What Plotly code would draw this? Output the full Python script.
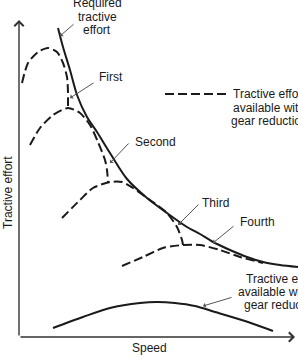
import plotly.graph_objects as go

# Coordinates: speed (S) to the right of the origin, effort (E) above the origin
req_s = [39, 44, 51, 58, 68, 78, 91, 108, 128, 148, 168, 181, 194, 211, 228, 244, 261, 279]
req_e = [309, 290, 267, 242, 220, 205, 184, 158, 139, 124, 110, 103, 95, 87, 80, 75, 72, 70]

first_s = [3, 9, 19, 29, 38, 44, 48, 49, 49, 49]
first_e = [254, 274, 285, 289, 285, 274, 260, 245, 237, 229]

second_s = [11, 21, 34, 49, 61, 71, 79, 86, 88, 89]
second_e = [192, 209, 222, 229, 224, 212, 195, 177, 167, 155]

third_s = [43, 61, 74, 91, 103, 114, 131, 148, 158, 163, 164]
third_e = [119, 137, 149, 155, 155, 149, 137, 124, 110, 97, 92]

fourth_s = [103, 124, 144, 164, 181, 201, 221, 244]
fourth_e = [71, 80, 89, 92, 92, 87, 80, 74]

nogear_s = [34, 64, 91, 121, 138, 156, 176, 196, 229, 254]
nogear_e = [9, 20, 29, 34, 35, 34, 31, 25, 15, 6]

legend_s = [146, 207]
legend_e = [243, 243]

INK = "#1a1a1a"
DASH = "9px,4px"
FONT = dict(family="Liberation Sans, Arial, sans-serif", size=12, color=INK)

fig = go.Figure()
fig.add_trace(go.Scatter(x=req_s, y=req_e, mode="lines",
                         line=dict(color=INK, width=2, shape="spline", smoothing=0.8)))
fig.add_trace(go.Scatter(x=nogear_s, y=nogear_e, mode="lines",
                         line=dict(color=INK, width=2, shape="spline", smoothing=0.8)))
for xs, ys in [(first_s, first_e), (second_s, second_e), (third_s, third_e), (fourth_s, fourth_e)]:
    fig.add_trace(go.Scatter(x=xs, y=ys, mode="lines",
                             line=dict(color=INK, width=2, dash=DASH, shape="spline", smoothing=0.7)))
fig.add_trace(go.Scatter(x=legend_s, y=legend_e, mode="lines",
                         line=dict(color=INK, width=2, dash=DASH)))

ann = []
# axes arrows
ann.append(dict(x=0, y=317, ax=0, ay=0, axref="x", ayref="y", xref="x", yref="y",
                text="", showarrow=True, arrowhead=4, arrowsize=1.3, arrowwidth=1.4, arrowcolor="#333"))
ann.append(dict(x=276, y=0, ax=0, ay=0, axref="x", ayref="y", xref="x", yref="y",
                text="", showarrow=True, arrowhead=4, arrowsize=1.3, arrowwidth=1.4, arrowcolor="#333"))

# pointers (head, tail)
pointers = [((41, 301), (56, 314)), ((51, 239), (76, 255)), ((91, 174), (111, 195)),
            ((159, 112), (181, 134)), ((194, 94), (216, 112)), ((184, 31), (214, 40))]
for (hx, hy), (tx, ty) in pointers:
    ann.append(dict(x=hx, y=hy, ax=tx, ay=ty, axref="x", ayref="y", xref="x", yref="y",
                    text="", showarrow=True, arrowhead=1, arrowsize=0.9, arrowwidth=1,
                    arrowcolor="#555", standoff=0))

def txt(x, y, t, anchor="center", angle=0):
    ann.append(dict(x=x, y=y, xref="x", yref="y", text=t, showarrow=False,
                    xanchor=anchor, yanchor="middle", font=FONT, textangle=angle))

txt(78, 334, "Required")
txt(78, 320, "tractive")
txt(78, 307, "effort")
txt(78, 260, "First", "left")
txt(114, 195, "Second", "left")
txt(181, 134, "Third", "left")
txt(219, 115, "Fourth", "left")
txt(250, 243, "Tractive effort")
txt(250, 229, "available with")
txt(250, 216, "gear reduction")
txt(263, 58, "Tractive effort")
txt(263, 45, "available without")
txt(263, 32, "gear reduction")
txt(130, -11, "Speed")
txt(-11, 144, "Tractive effort", angle=-90)

fig.update_layout(
    width=298, height=359,
    margin=dict(l=0, r=0, t=0, b=0, pad=0),
    paper_bgcolor="white", plot_bgcolor="white",
    showlegend=False,
    annotations=ann,
    xaxis=dict(range=[-19, 279], visible=False, fixedrange=True),
    yaxis=dict(range=[-22, 337], visible=False, fixedrange=True),
)
fig.write_html("out.html", config={"displayModeBar": False})
